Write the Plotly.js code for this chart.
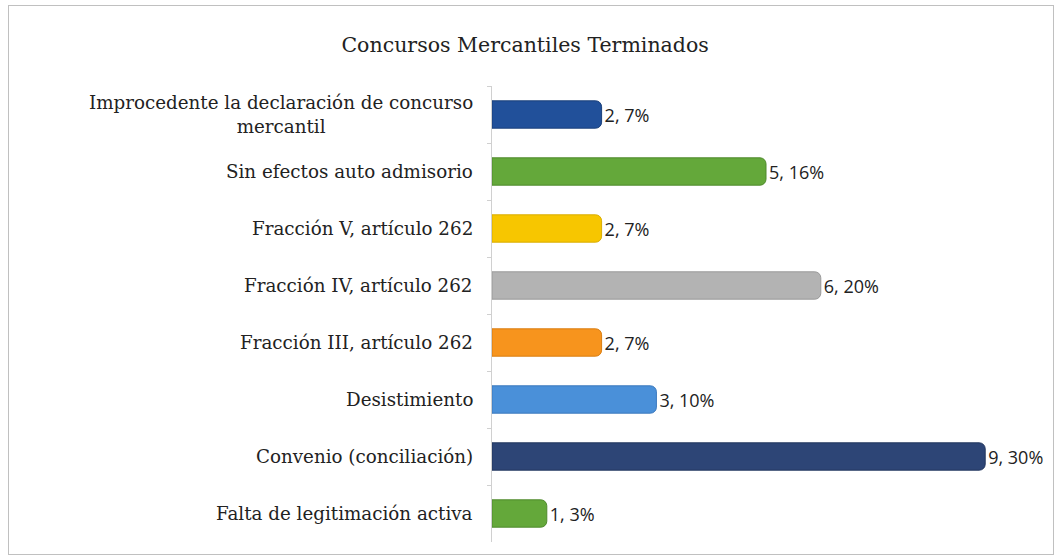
<!DOCTYPE html>
<html>
<head>
<meta charset="utf-8">
<script src="https://cdn.plot.ly/plotly-3.0.1.min.js"></script>
<style>
  html, body { margin:0; padding:0; background:#fff; }
  #wrap { position:relative; width:1063px; height:559px; }
  #chart { width:1063px; height:559px; }
  #frame { position:absolute; left:8px; top:5px; width:1046px; height:550px; border:1px solid #c0c0c0; pointer-events:none; box-sizing:border-box; }
</style>
</head>
<body>
<div id="wrap"><div id="chart"></div><div id="frame"></div></div>
<script>
const categories = [
  "Improcedente la declaración de concurso<br>mercantil",
  "Sin efectos auto admisorio",
  "Fracción V, artículo 262",
  "Fracción IV, artículo 262",
  "Fracción III, artículo 262",
  "Desistimiento",
  "Convenio (conciliación)",
  "Falta de legitimación activa"
];
const counts = [2, 5, 2, 6, 2, 3, 9, 1];
const percents = ["7%", "16%", "7%", "20%", "7%", "10%", "30%", "3%"];
const colors = ["#21509a", "#64a83a", "#f7c600", "#b3b3b3", "#f7941d", "#4a90d9", "#2d4576", "#64a83a"];
const lineColors = ["#1a3f7a", "#4f8a2c", "#d9ad00", "#9a9a9a", "#d97d10", "#3a78bd", "#22365e", "#4f8a2c"];

const labels = counts.map((c, i) => c + ", " + percents[i]);

const trace = {
  type: "bar",
  orientation: "h",
  y: categories,
  x: counts,
  text: labels,
  textposition: "outside",
  constraintext: "none",
  cliponaxis: false,
  textfont: { family: "Open Sans, Liberation Sans, sans-serif", size: 18, color: "#222222" },
  marker: { color: colors, line: { color: lineColors, width: 1 }, cornerradius: 6 },
  hoverinfo: "none"
};

const annotations = categories.map(c => ({
  xref: "paper", yref: "y", x: 0, y: c,
  xanchor: "right", yanchor: "middle", xshift: -17,
  text: c, showarrow: false, align: "center",
  font: { family: "DejaVu Serif, Georgia, serif", size: 18.3, color: "#222222" }
}));

const layout = {
  width: 1063, height: 559,
  paper_bgcolor: "#ffffff", plot_bgcolor: "#ffffff",
  margin: { l: 492, r: 23, t: 86, b: 17 },
  title: {
    text: "Concursos Mercantiles Terminados",
    x: 0.494, xanchor: "center", y: 0.92, yanchor: "middle",
    font: { family: "DejaVu Serif, Georgia, serif", size: 20.5, color: "#222222" }
  },
  bargap: 0.52,
  showlegend: false,
  xaxis: { range: [0, 10], showgrid: false, zeroline: false, showticklabels: false, showline: false, fixedrange: true },
  yaxis: {
    autorange: "reversed", showticklabels: false, showgrid: false, zeroline: false,
    showline: true, linecolor: "#d0d0d0", linewidth: 1,
    ticks: "outside", ticklen: 4, tickcolor: "#d0d0d0", tickson: "boundaries"
  },
  annotations: annotations
};

Plotly.newPlot("chart", [trace], layout, { displayModeBar: false, staticPlot: true });
</script>
</body>
</html>
